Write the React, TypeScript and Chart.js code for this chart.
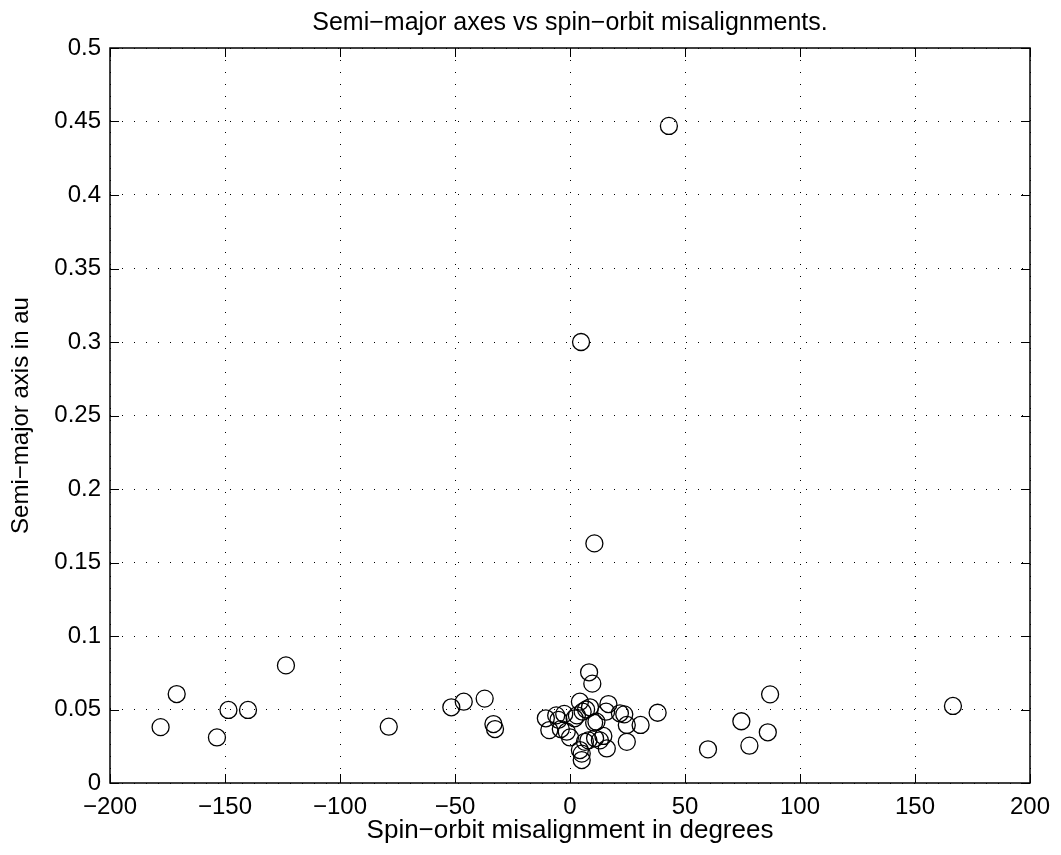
import React, { useEffect, useRef } from "react";
import { Chart, registerables } from "chart.js";

Chart.register(...registerables);

const misalignmentDeg: number[] = [
  -178, -171, -153.5, -148.5, -140, -123.5, -78.8, -51.6, -46.2, -37.1, -33.3, -32.6,
  43, 4.8, 10.6, 60, 74.5, 78, 86, 87, 166.5,
  -10.5, -9, -6, -5, -4, -2.5, -1.4, 0, 2, 3, 4.3, 5.5, 7, 8.3, 8.7, 9.7, 10.5, 11.5,
  13, 8, 6.5, 14.5, 15.7, 16, 16.7, 21.7, 23.6, 24.7, 24.7, 30.7, 38.1, 4.3, 5.1, 5.1, 10.9,
];
const semiMajorAu: number[] = [
  0.038, 0.0605, 0.031, 0.0497, 0.0497, 0.08, 0.0383, 0.0515, 0.0553, 0.0574, 0.0401, 0.0367,
  0.447, 0.3, 0.163, 0.0229, 0.042, 0.0254, 0.0345, 0.0603, 0.0524,
  0.044, 0.036, 0.046, 0.043, 0.0367, 0.047, 0.0349, 0.031, 0.044, 0.046, 0.0553, 0.0485, 0.05, 0.0753, 0.0515, 0.0676, 0.041, 0.0417,
  0.029, 0.029, 0.028, 0.032, 0.0485, 0.0235, 0.0537, 0.0474, 0.0467, 0.0395, 0.028, 0.0395, 0.0478, 0.0224, 0.02, 0.0156, 0.0304,
];

const xTickValues: number[] = [-200, -150, -100, -50, 0, 50, 100, 150, 200];
const xTickLabels: string[] = ["\u2212200", "\u2212150", "\u2212100", "\u221250", "0", "50", "100", "150", "200"];
const yTickValues: number[] = [0, 0.05, 0.1, 0.15, 0.2, 0.25, 0.3, 0.35, 0.4, 0.45, 0.5];
const yTickLabels: string[] = ["0", "0.05", "0.1", "0.15", "0.2", "0.25", "0.3", "0.35", "0.4", "0.45", "0.5"];

const titleText = "Semi\u2212major axes vs spin\u2212orbit misalignments.";
const xTitle = "Spin\u2212orbit misalignment in degrees";
const yTitle = "Semi\u2212major axis in au";

const FONT = "'Liberation Sans', Arial, Helvetica, sans-serif";

const framePlugin = {
  id: "frameTicks",
  afterDatasetsDraw(chart: any) {
    const { ctx, chartArea } = chart;
    const { left, right, top, bottom } = chartArea;
    const xs = chart.scales.x;
    const ys = chart.scales.y;
    ctx.save();
    ctx.strokeStyle = "#000";
    ctx.lineWidth = 1.5;
    ctx.strokeRect(left, top, right - left, bottom - top);
    ctx.lineWidth = 1;
    const tl = 9;
    ctx.beginPath();
    xTickValues.forEach((v) => {
      const px = Math.round(xs.getPixelForValue(v)) + 0.5;
      ctx.moveTo(px, bottom);
      ctx.lineTo(px, bottom - tl);
      ctx.moveTo(px, top);
      ctx.lineTo(px, top + tl);
    });
    yTickValues.forEach((v) => {
      const py = Math.round(ys.getPixelForValue(v)) + 0.5;
      ctx.moveTo(left, py);
      ctx.lineTo(left + tl, py);
      ctx.moveTo(right, py);
      ctx.lineTo(right - tl, py);
    });
    ctx.stroke();
    ctx.fillStyle = "#000";
    ctx.font = `25px ${FONT}`;
    ctx.textAlign = "center";
    ctx.textBaseline = "middle";
    ctx.fillText(titleText, (left + right) / 2, 23);
    ctx.restore();
  },
};

export default function App() {
  const ref = useRef<HTMLCanvasElement | null>(null);
  useEffect(() => {
    if (!ref.current) return;
    const points = misalignmentDeg.map((x, i) => ({ x, y: semiMajorAu[i] }));
    const chart = new Chart(ref.current, {
      type: "scatter",
      data: {
        datasets: [
          {
            data: points,
            pointStyle: "circle",
            pointRadius: 8.5,
            pointHoverRadius: 8.5,
            borderColor: "#000",
            backgroundColor: "rgba(0,0,0,0)",
            borderWidth: 1.3,
          },
        ],
      },
      options: {
        animation: false,
        responsive: false,
        maintainAspectRatio: false,
        layout: { padding: { top: 48, right: 31, bottom: 0, left: 0 } },
        plugins: {
          legend: { display: false },
          title: { display: false },
          tooltip: { enabled: false },
        },
        scales: {
          x: {
            type: "linear",
            min: -200,
            max: 200,
            afterBuildTicks: (s: any) => {
              s.ticks = xTickValues.map((v) => ({ value: v }));
            },
            afterFit: (s: any) => {
              s.height = 72;
            },
            ticks: {
              color: "#000",
              font: { family: FONT, size: 24 },
              padding: 10,
              maxRotation: 0,
              callback: (v: any) => {
                const i = xTickValues.indexOf(Number(v));
                return i >= 0 ? xTickLabels[i] : "";
              },
            },
            grid: { color: "#000", lineWidth: 1, drawTicks: false },
            border: { display: false, dash: [1, 11] },
            title: {
              display: true,
              text: xTitle,
              color: "#000",
              font: { family: FONT, size: 26 },
              padding: { top: 10, bottom: 9 },
            },
          },
          y: {
            type: "linear",
            min: 0,
            max: 0.5,
            afterBuildTicks: (s: any) => {
              s.ticks = yTickValues.map((v) => ({ value: v }));
            },
            afterFit: (s: any) => {
              s.width = 110;
            },
            ticks: {
              color: "#000",
              font: { family: FONT, size: 24 },
              padding: 9,
              callback: (v: any) => {
                const i = yTickValues.findIndex((t) => Math.abs(t - Number(v)) < 1e-9);
                return i >= 0 ? yTickLabels[i] : "";
              },
            },
            grid: { color: "#000", lineWidth: 1, drawTicks: false },
            border: { display: false, dash: [1, 11] },
            title: {
              display: true,
              text: yTitle,
              color: "#000",
              font: { family: FONT, size: 24 },
              padding: { top: 7, bottom: 7 },
            },
          },
        },
      },
      plugins: [framePlugin],
    });
    return () => chart.destroy();
  }, []);
  return (
    <div style={{ position: "fixed", left: 0, top: 0, width: 1061, height: 855, background: "#fff" }}>
      <canvas ref={ref} width={1061} height={855} style={{ display: "block" }} />
    </div>
  );
}
